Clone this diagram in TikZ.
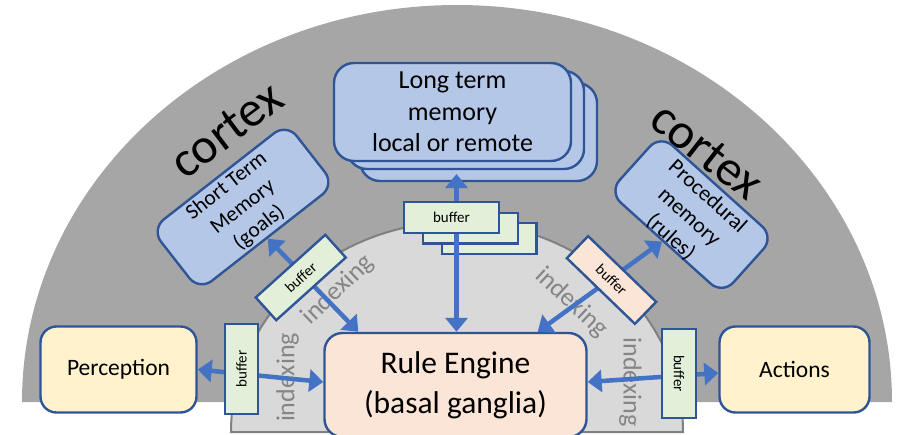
\documentclass[tikz,border=0pt]{standalone}
\usepackage{fontspec}
\setmainfont{Carlito}
\usetikzlibrary{arrows.meta,calc}
\definecolor{cortexgray}{HTML}{A6A6A6}
\definecolor{innergray}{HTML}{D9D9D9}
\definecolor{innerline}{HTML}{808080}
\definecolor{boxblue}{HTML}{B4C7E7}
\definecolor{edgeblue}{HTML}{2F5597}
\definecolor{boxyellow}{HTML}{FFF2CC}
\definecolor{boxpeach}{HTML}{FBE5D6}
\definecolor{boxgreen}{HTML}{E2F0D9}
\definecolor{arrowblue}{HTML}{4472C4}
\definecolor{idxgray}{HTML}{858585}
\tikzset{
  box/.style={draw=edgeblue, line width=2.4pt, rounded corners=16pt, align=center, inner sep=0pt},
  membox/.style={box, fill=boxblue},
  memtext/.style={align=center, inner sep=0pt, font=\fontsize{21.5}{26.5}\selectfont},
  buf/.style={draw=edgeblue, line width=2.4pt, fill=boxgreen, inner sep=0pt, font=\fontsize{15}{18}\selectfont},
  arr/.style={draw=arrowblue, line width=4.5pt, {Triangle[length=14pt,width=22pt]}-{Triangle[length=14pt,width=22pt]}},
  idx/.style={text=idxgray, font=\fontsize{26}{30}\selectfont, inner sep=0pt},
  ctx/.style={font=\fontsize{50}{60}\selectfont, inner sep=0pt},
}
\begin{document}
\begin{tikzpicture}[x=1pt,y=-1pt]
\useasboundingbox (0,0) rectangle (897,434);
% cortex and inner region
\fill[cortexgray] (22,402) arc[start angle=180, end angle=360, x radius=435, y radius=397] -- cycle;
\filldraw[fill=innergray, draw=innerline, line width=2pt] (231,432) arc[start angle=180, end angle=360, x radius=226, y radius=210] -- cycle;
% labels
\node[idx, rotate=90]  (ix1) at (287.5,377.5) {indexing};
\node[idx, rotate=44]  (ix2) at (338,290) {indexing};
\node[idx, rotate=-43] (ix3) at (571.5,302.5) {indexing};
\node[idx, rotate=-90] (ix4) at (630.5,382) {indexing};
\node[ctx, rotate=37]  (cortexL) at (226.5,130) {cortex};
\node[ctx, rotate=-38] (cortexR) at (707,151) {cortex};
% main boxes
\node[box, fill=boxyellow, minimum width=156pt, minimum height=86pt, font=\fontsize{23.5}{28}\selectfont] (perc) at (118.5,369.5) {Perception};
\node[box, fill=boxyellow, minimum width=150pt, minimum height=86pt, font=\fontsize{23.5}{28}\selectfont] (act) at (794.5,369.5) {Actions};
\node[box, fill=boxpeach, rounded corners=18pt, minimum width=262pt, minimum height=104pt, font=\fontsize{31.5}{40}\selectfont] (re) at (455.5,385) {Rule Engine\\(basal ganglia)};
\node[membox, rotate=38, minimum width=172pt, minimum height=78pt] (stm) at (243,207) {};
\node[memtext, rotate=38] (stmtext) at (stm.center) {Short Term\\Memory\\(goals)};
\node[membox, rotate=-42, minimum width=153pt, minimum height=77pt] (proc) at (691.5,214.6) {};
\node[memtext, rotate=-42, font=\fontsize{22}{27.5}\selectfont] (proctext) at ([shift={(-2.5,2.5)}]proc.center) {Procedural\\memory\\(rules)};
% long term memory stack
\node[membox, rounded corners=20pt, minimum width=237pt, minimum height=98pt] (ltmC) at (478.5,132) {};
\node[membox, rounded corners=20pt, minimum width=237pt, minimum height=98pt] (ltmB) at (465.5,120) {};
\node[membox, rounded corners=20pt, minimum width=237pt, minimum height=98pt, font=\fontsize{26}{31.7}\selectfont] (ltm) at (452.5,112) {Long term\\memory\\local or remote};
% back buffers of the stack
\node[buf, minimum width=94.6pt, minimum height=30.6pt] (bufC) at (489,238.5) {};
\node[buf, minimum width=94.6pt, minimum height=30.6pt] (bufB) at (470.5,228) {};
% connectors
\coordinate (ltmtip) at (456.5,174);
\draw[arr] (re.north -| ltmtip) -- (ltmtip);
\draw[arr] (perc.east) -- ([yshift=3pt]re.west);
\draw[arr] ([yshift=3pt]re.east) -- ([yshift=-3.5pt]act.west);
\draw[arr] ([xshift=35pt]re.north west) -- (stm.south);
\draw[arr] ([xshift=-50pt]re.north east) -- ($(proc.south)!0.05!(proc.south west)$);
% front buffers
\node[buf, minimum width=94.6pt, minimum height=30.6pt] (bufA) at (451.5,217.5) {buffer};
\node[buf, rotate=90, minimum width=89.6pt, minimum height=32.6pt] (bufL) at (241.5,369) {buffer};
\node[buf, rotate=-90, minimum width=88.6pt, minimum height=33.6pt] (bufR) at (679,373.5) {buffer};
\node[buf, rotate=42, minimum width=93.6pt, minimum height=30.6pt] (bufS) at (300.75,277.5) {buffer};
\node[buf, rotate=-44, fill=boxpeach, minimum width=94.6pt, minimum height=30.6pt] (bufP) at (611.5,280) {buffer};
\end{tikzpicture}
\end{document}
